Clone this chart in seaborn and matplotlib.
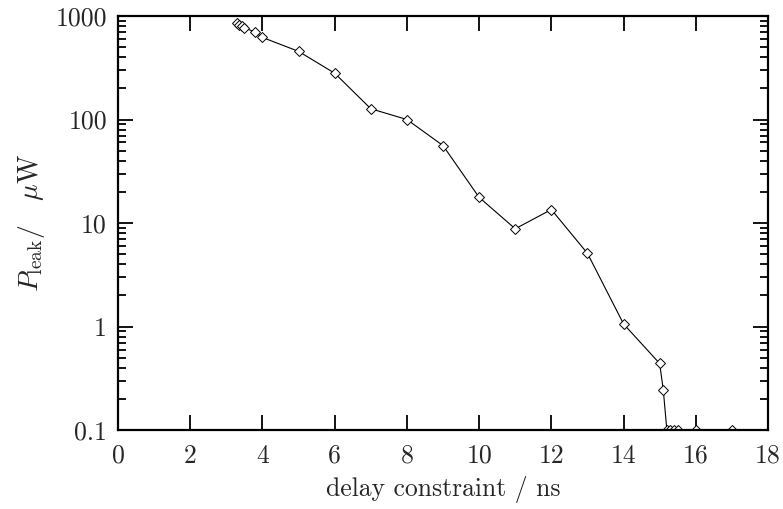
import matplotlib
matplotlib.use("Agg")
import matplotlib.pyplot as plt
import matplotlib.ticker as mticker
import seaborn as sns
import pandas as pd

delay_ns = [3.3, 3.36, 3.43, 3.5, 3.78, 4.0, 5.0, 6.0, 7.0, 8.0, 9.0, 10.0,
            11.0, 12.0, 13.0, 14.0, 15.0, 15.1, 15.2, 15.3, 15.4, 15.5, 16.0, 17.0]
p_leak_uW = [850, 820, 795, 765, 705, 620, 455, 280, 127, 100, 56, 17.7,
             8.8, 13.5, 5.1, 1.06, 0.44, 0.245, 0.1, 0.1, 0.1, 0.1, 0.1, 0.1]

y_ticks = [0.1, 1, 10, 100, 1000]
y_tick_labels = ["0.1", "1", "10", "100", "1000"]
x_ticks = [0, 2, 4, 6, 8, 10, 12, 14, 16, 18]

sns.set_style("ticks")
plt.rcParams["font.family"] = ["cmr10", "DejaVu Serif"]
plt.rcParams["mathtext.fontset"] = "cm"
plt.rcParams["axes.formatter.use_mathtext"] = True

df = pd.DataFrame({"delay": delay_ns, "pleak": p_leak_uW})

fig = plt.figure(figsize=(7.83, 5.09), dpi=100)
ax = fig.add_axes([0.1508, 0.155, 0.830, 0.8136])

sns.lineplot(data=df, x="delay", y="pleak", ax=ax, sort=False, estimator=None,
             color="black", linewidth=0.8, marker="D", markersize=5,
             markerfacecolor="white", markeredgecolor="black", markeredgewidth=0.7)

ax.set_yscale("log")
ax.set_xlim(0, 18)
ax.set_ylim(0.1, 1000)
ax.set_xticks(x_ticks)
ax.set_xticklabels([str(t) for t in x_ticks])
ax.yaxis.set_major_locator(mticker.FixedLocator(y_ticks))
ax.yaxis.set_major_formatter(mticker.FixedFormatter(y_tick_labels))
ax.yaxis.set_minor_locator(mticker.LogLocator(base=10, subs=range(2, 10), numticks=20))
ax.yaxis.set_minor_formatter(mticker.NullFormatter())

ax.tick_params(which="both", direction="in", top=True, right=True,
               labelsize=18.5, width=1.3, color="black")
ax.tick_params(which="major", length=11)
ax.tick_params(axis="y", which="major", pad=8)
ax.tick_params(axis="x", which="major", pad=10)
ax.tick_params(which="minor", length=6)
for s in ax.spines.values():
    s.set_linewidth(1.6)
    s.set_color("black")

ax.set_xlabel("delay constraint / ns", fontsize=18.5, labelpad=6)
ax.set_ylabel(r"$P_{\mathrm{leak}}/\quad\mu\mathrm{W}$", fontsize=20, labelpad=6)

fig.savefig("out.png", dpi=100)
